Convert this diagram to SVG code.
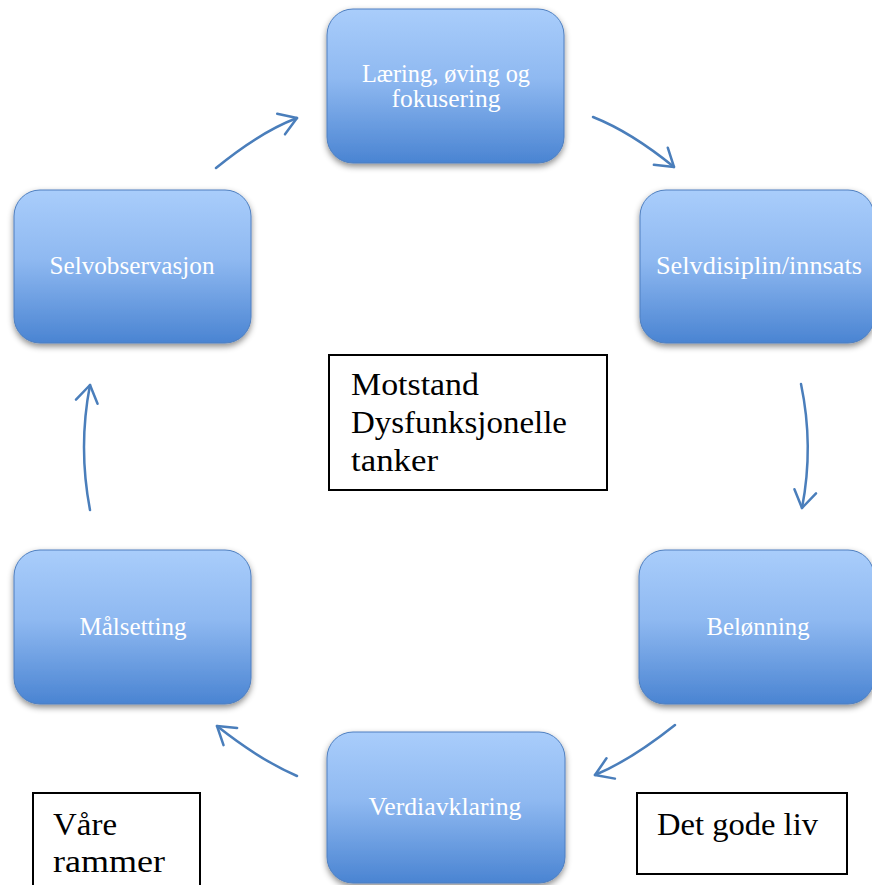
<svg xmlns="http://www.w3.org/2000/svg" width="872" height="885" viewBox="0 0 872 885">
<defs>
<linearGradient id="nodeFill" x1="0" y1="0" x2="0" y2="1">
<stop offset="0" stop-color="#a9cdfb"/>
<stop offset="0.45" stop-color="#8fb9f1"/>
<stop offset="1" stop-color="#4a84d2"/>
</linearGradient>
<filter id="shadow" x="-10%" y="-10%" width="120%" height="130%">
<feDropShadow dx="0" dy="3" stdDeviation="3" flood-color="#000" flood-opacity="0.45"/>
</filter>
<marker id="arrow" markerUnits="userSpaceOnUse" viewBox="-22 -14 24 28" refX="0" refY="0" markerWidth="24" markerHeight="28" orient="auto" overflow="visible">
<path d="M-17,-11 L0,0 L-17,11" fill="none" stroke="#4a7ebb" stroke-width="2.5" stroke-linecap="round" stroke-linejoin="round"/>
</marker>
</defs>
<style>
.node rect { fill: url(#nodeFill); stroke: #4e7fc0; stroke-width: 1; filter: url(#shadow); }
.node text { font-family: "Liberation Serif", "DejaVu Serif", serif; font-size: 25px; fill: #ffffff; text-anchor: middle; }
.conn path { fill: none; stroke: #4a7ebb; stroke-width: 2.5; stroke-linecap: round; marker-end: url(#arrow); }
.box rect { fill: #ffffff; stroke: #000000; stroke-width: 2; }
.box text { font-family: "Liberation Serif", "DejaVu Serif", serif; font-size: 32px; fill: #000000; }
</style>
<rect x="0" y="0" width="872" height="885" fill="#ffffff"/>

<g id="node-laering" class="node">
<rect x="327" y="9" width="237" height="154" rx="26" ry="26"/>
<text x="446" y="82" textLength="168" lengthAdjust="spacingAndGlyphs">Læring, øving og</text>
<text x="446" y="107" textLength="109" lengthAdjust="spacingAndGlyphs">fokusering</text>
</g>
<g id="node-selvdisiplin" class="node">
<rect x="640" y="190" width="234" height="153" rx="26" ry="26"/>
<text x="759" y="274" textLength="206" lengthAdjust="spacingAndGlyphs">Selvdisiplin/innsats</text>
</g>
<g id="node-belonning" class="node">
<rect x="639" y="550" width="235" height="154" rx="26" ry="26"/>
<text x="758" y="635" textLength="103" lengthAdjust="spacingAndGlyphs">Belønning</text>
</g>
<g id="node-verdiavklaring" class="node">
<rect x="327" y="732" width="238" height="151" rx="26" ry="26"/>
<text x="445" y="815" textLength="153" lengthAdjust="spacingAndGlyphs">Verdiavklaring</text>
</g>
<g id="node-malsetting" class="node">
<rect x="14" y="550" width="237" height="154" rx="26" ry="26"/>
<text x="133" y="635" textLength="107" lengthAdjust="spacingAndGlyphs">Målsetting</text>
</g>
<g id="node-selvobservasjon" class="node">
<rect x="14" y="190" width="237" height="153" rx="26" ry="26"/>
<text x="132" y="274" textLength="165" lengthAdjust="spacingAndGlyphs">Selvobservasjon</text>
</g>

<g id="connectors" class="conn">
<path d="M216,168 Q260,132 297,118"/>
<path d="M593,117 Q631,132 674,167"/>
<path d="M801,384 Q814,446 802,508"/>
<path d="M675,725 Q631,760 595,775"/>
<path d="M297,776 Q260,760 217,726"/>
<path d="M90,510 Q78,447 90,385"/>
</g>

<g id="box-motstand" class="box">
<rect x="329" y="355" width="278" height="135"/>
<text x="351" y="395" textLength="128" lengthAdjust="spacingAndGlyphs">Motstand</text>
<text x="351" y="433" textLength="216" lengthAdjust="spacingAndGlyphs">Dysfunksjonelle</text>
<text x="351" y="471" textLength="87" lengthAdjust="spacingAndGlyphs">tanker</text>
</g>
<g id="box-vare-rammer" class="box">
<rect x="33" y="793" width="167" height="100"/>
<text x="53" y="835" textLength="64" lengthAdjust="spacingAndGlyphs">Våre</text>
<text x="53" y="872" textLength="112" lengthAdjust="spacingAndGlyphs">rammer</text>
</g>
<g id="box-det-gode-liv" class="box">
<rect x="637" y="793" width="210" height="81"/>
<text x="657" y="835" textLength="161" lengthAdjust="spacingAndGlyphs">Det gode liv</text>
</g>
</svg>
